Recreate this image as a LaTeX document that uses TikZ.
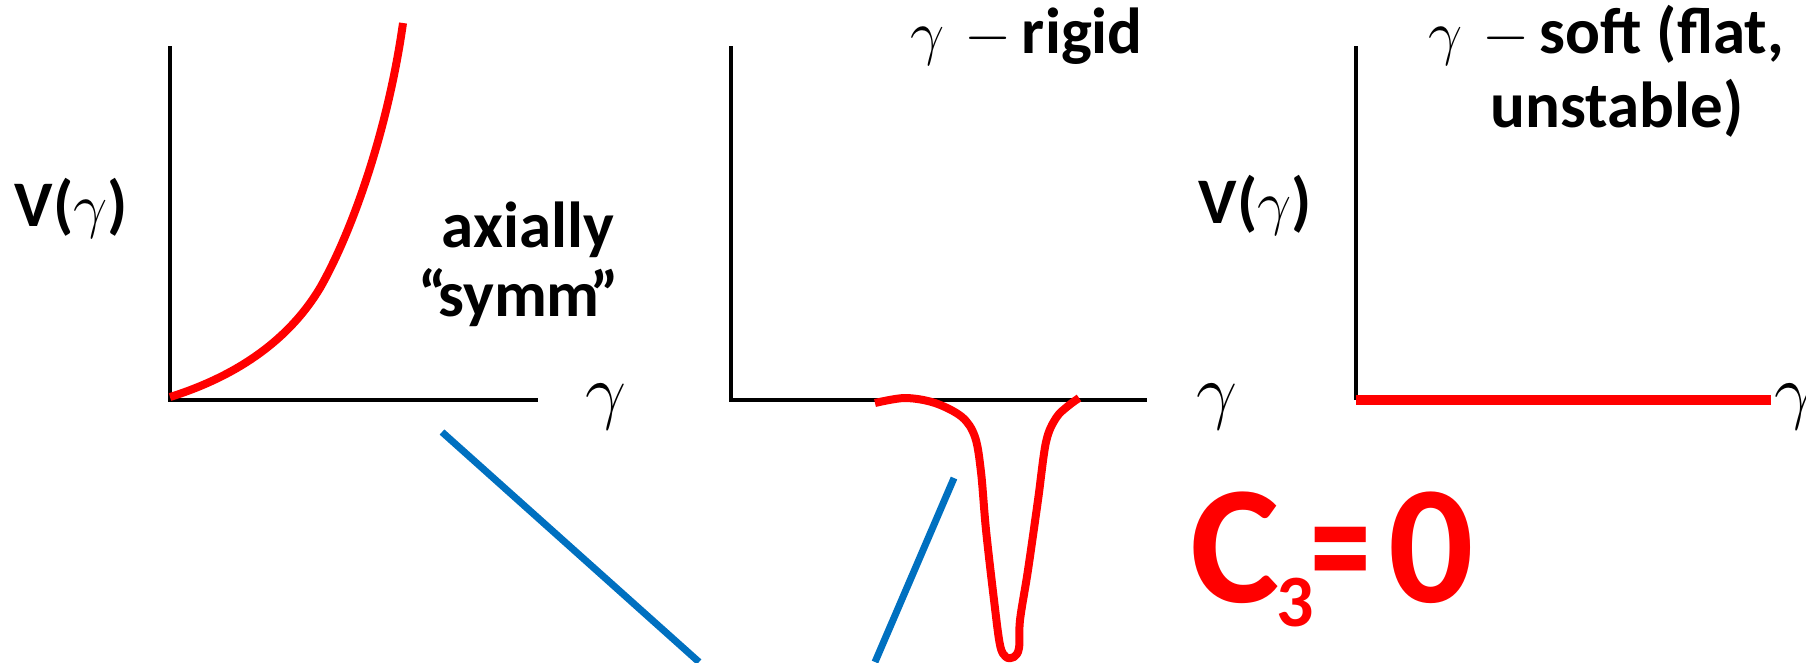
\documentclass[tikz,border=0pt]{standalone}
\usepackage{fontspec}
\setmainfont{Carlito}
\usetikzlibrary{positioning}
\definecolor{CurveRed}{RGB}{255,0,0}
\definecolor{GuideBlue}{RGB}{0,112,192}
\newcommand{\gam}{$\gamma$}
\newcommand{\gdash}{\hspace{5.5pt}$-$\hspace{3pt}}
\tikzset{
  axis/.style={line width=0.35mm,draw=black},
  curve/.style={line width=0.8mm,draw=CurveRed,line join=round},
  flatcurve/.style={line width=0.95mm,draw=CurveRed},
  guide/.style={line width=0.7mm,draw=GuideBlue},
  lbl/.style={font=\fontsize{18.5}{21}\selectfont\bfseries,inner sep=0pt,anchor=base west},
  glbl/.style={font=\fontsize{21}{23}\selectfont,inner sep=0pt,anchor=base west},
  bigred/.style={font=\fontsize{48}{52}\selectfont\bfseries,text=CurveRed,inner sep=0pt,anchor=base west}
}
\begin{document}
\begin{tikzpicture}[x=0.1mm,y=-0.1mm]
  \useasboundingbox (0,0) rectangle (1806,662);
  % left panel
  \coordinate (oA) at (170,400);
  \coordinate (tA) at (170,46);
  \coordinate (eA) at (538,400);
  \draw[axis] (tA) -- (oA) -- (eA);
  \draw[curve] (170,397) .. controls (240,375) and (290,338) .. (320,288)
                         .. controls (352,232) and (388,130) .. (403,23);
  \node[lbl] (vA) at (14,226) {V(\gam)};
  \node[glbl] (gA) at (585,415) {\gam};
  \node[lbl] (axial) at (441,247) {axially};
  \node[lbl] (symm) at (418,316) {“\hspace{-2.5pt}symm\hspace{-2.5pt}”};

  % middle panel
  \coordinate (oB) at (731,400);
  \coordinate (tB) at (731,46);
  \coordinate (eB) at (1147,400);
  \draw[axis] (tB) -- (oB) -- (eB);
  \draw[curve] plot[smooth,tension=0.55] coordinates {(875,403) (905,398) (935,403) (962,417) (975,437) (981,472) (986,530) (994,600) (1000,645) (1006,657) (1014,657) (1019,648) (1020,620) (1028,570) (1038,500) (1046,442) (1056,418) (1068,406) (1079,398)};
  \node[lbl] (rigid) at (910,53) {\gam\gdash rigid};
  \node[glbl] (gB) at (1196,415) {\gam};

  % right panel
  \coordinate (oC) at (1356,400);
  \coordinate (tC) at (1356,46);
  \coordinate (eC) at (1771,400);
  \draw[axis] (tC) -- (oC);
  \draw[flatcurve] (oC) -- (eC);
  \node[lbl] (vC) at (1198,223) {V(\gam)};
  \node[glbl] (gC) at (1774,415) {\gam};
  \node[lbl] (soft) at (1428,53) {\gam\gdash soft (flat,};
  \node[lbl] (unst) at (1490,127) {unstable)};

  % guides and label
  \coordinate (pA) at (442,432);
  \coordinate (qA) at (699,662);
  \coordinate (pB) at (954,478);
  \coordinate (qB) at (875,662);
  \draw[guide] (pA) -- (qA);
  \draw[guide] (pB) -- (qB);
  \node[bigred] (cthree) at (1190,602) {C\hspace{-1pt}\raisebox{-7pt}{\fontsize{21}{23}\selectfont 3}\hspace{-1pt}\scalebox{0.72}[1]{=}\hspace{5pt}0};
\end{tikzpicture}
\end{document}
